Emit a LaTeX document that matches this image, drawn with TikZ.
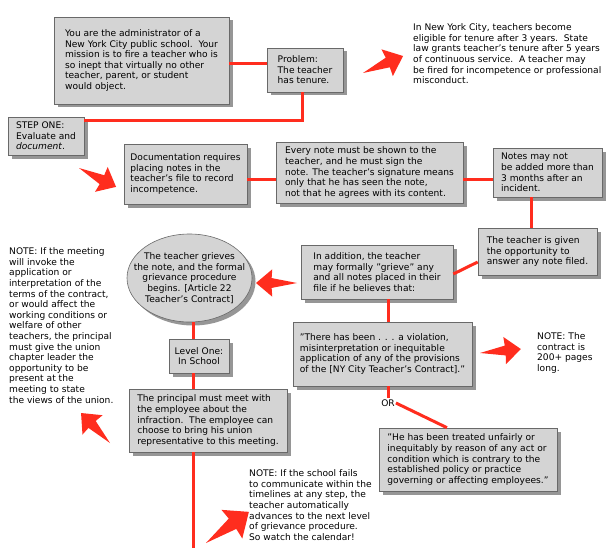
\documentclass[tikz,border=0pt]{standalone}
\usepackage{fontspec}
\setmainfont{DejaVu Sans}
\usetikzlibrary{shapes.geometric,shadows}

\definecolor{boxgray}{RGB}{212,212,212}
\definecolor{shadegray}{RGB}{150,150,150}
\definecolor{edgegray}{RGB}{105,105,105}
\definecolor{linkred}{RGB}{255,45,30}

% fat red pointer: tail, angle, length
\newcommand{\fatarrow}[3]{%
  \fill[linkred] (#1) -- +(#2+11:0.63*#3) -- +(#2+29:0.69*#3) -- +(#2:#3)
    -- +(#2-29:0.69*#3) -- +(#2-11:0.63*#3) -- cycle;}

\begin{document}
\begin{tikzpicture}[x=1pt, y=-1pt,
  every node/.style={font=\fontsize{9.1}{10.6}\selectfont},
  box/.style={draw=edgegray, line width=0.6pt, fill=boxgray, align=left, inner sep=0pt,
    drop shadow={shadow xshift=3.5pt, shadow yshift=-3.5pt, fill=shadegray, opacity=1}},
  note/.style={align=left, inner sep=0pt, anchor=north west},
  link/.style={draw=linkred, line width=3pt}]
  \useasboundingbox (0,0) rectangle (609,548);
  \coordinate (spine) at (193,548);

  % first row
  \node[box, minimum width=175pt, minimum height=87pt] (mission) at (141.5,60.5)
    {You are the administrator of a\\ New York City public school.\ \ Your\\
     mission is to fire a teacher who is\\ so inept that virtually no other\\
     teacher, parent, or student\\ would object.};
  \node[box, minimum width=76pt, minimum height=44pt] (problem) at (305,70)
    {Problem:\\ The teacher\\ has tenure.};
  \node[note] (tenurenote) at (413,23.5)
    {In New York City, teachers become\\ eligible for tenure after 3 years.\ \ State\\
     law grants teacher's tenure after 5 years\\ of continuous service.\ \ A teacher may\\
     be fired for incompetence or professional\\ misconduct.};
  \node[box, minimum width=76pt, minimum height=38pt] (step1) at (46,136)
    {STEP ONE:\\ Evaluate and\\ \textit{document}.};

  % documentation row
  \node[box, minimum width=123pt, minimum height=60pt] (doc) at (185.5,174)
    {Documentation requires\\ placing notes in the\\ teacher's file to record\\ incompetence.};
  \node[box, minimum width=187pt, minimum height=61pt] (every) at (369.5,172.5)
    {Every note must be shown to the\\ teacher, and he must sign the\\
     note. The teacher's signature means\\ only that he has seen the note,\\
     not that he agrees with its content.};
  \node[box, minimum width=109pt, minimum height=49pt] (notes) at (547.5,172.5)
    {Notes may not\\ be added more than\\ 3 months after an\\ incident.};
  \node[box, minimum width=119pt, minimum height=47pt] (given) at (537.5,251.5)
    {The teacher is given\\ the opportunity to\\ answer any note filed.};

  % grievance
  \node[box, minimum width=152pt, minimum height=54pt] (addition) at (377,272)
    {In addition, the teacher\\ may formally "grieve" any\\ and all notes placed in their\\ file if he believes that:};
  \node[box, minimum width=179pt, minimum height=64pt] (quote1) at (382.5,354)
    {"There has been . . . a violation,\\ misinterpretation or inequitable\\
     application of any of the provisions\\ of the [NY City Teacher's Contract]."};
  \node[inner sep=1pt] (or) at (388,403) {OR};
  \node[box, minimum width=178pt, minimum height=63pt] (quote2) at (468,459.5)
    {"He has been treated unfairly or\\ inequitably by reason of any act or\\
     condition which is contrary to the\\ established policy or practice\\
     governing or affecting employees."};
  \node[note] (contractnote) at (537,332.5) {NOTE: The\\ contract is\\ 200+ pages\\ long.};

  % level one
  \node[box, ellipse, minimum width=125pt, minimum height=88pt] (grieve) at (189.5,278) {};
  \node[align=center, inner sep=0pt] (grievetext) at (grieve)
    {The teacher grieves\\ the note, and the formal\\ grievance procedure\\ begins. [Article 22\\ Teacher's Contract]};
  \node[box, align=center, minimum width=60pt, minimum height=34pt] (level) at (199,356)
    {Level One:\\ In School};
  \node[box, minimum width=158pt, minimum height=63pt] (principal) at (208,420.5)
    {The principal must meet with\\ the employee about the\\ infraction.\ \ The employee can\\
     choose to bring his union\\ representative to this meeting.};
  \node[note] (leftnote) at (9,247.5)
    {NOTE: If the meeting\\ will invoke the\\ application or\\ interpretation of the\\
     terms of the contract,\\ or would affect the\\ working conditions or\\ welfare of other\\
     teachers, the principal\\ must give the union\\ chapter leader the\\ opportunity to be\\
     present at the\\ meeting to state\\ the views of the union.};
  \node[note] (schoolnote) at (249,469.5)
    {NOTE: If the school fails\\ to communicate within the\\ timelines at any step, the\\
     teacher automatically\\ advances to the next level\\ of grievance procedure.\\ So watch the calendar!};

  % connectors
  \draw[link] (mission.east |- 0,64) -- (problem.west |- 0,64);
  \draw[link] ([xshift=-3pt]problem.south) |- ([yshift=-4pt]step1.north east);
  \draw[link] (doc.east |- 0,179) -- (every.west |- 0,179);
  \draw[link] (every.east |- 0,179) -- (notes.west |- 0,179);
  \draw[link] (notes.south -| 531,0) -- (given.north -| 531,0);
  \draw[link] (given.west |- 0,262) -- (addition.east |- 0,274);
  \draw[link] (addition.south -| or) -- (quote1.north -| or);
  \draw[link] (quote1.south -| or) -- (or.north);
  \draw[link] (or.east) -- (quote2.north -| 447,0);
  \draw[link] (grieve.south -| spine) -- (level.north -| spine);
  \draw[link] (level.south -| spine) -- (principal.north -| spine);
  \draw[link] (principal.south -| spine) -- (spine);

  % pointers
  \fatarrow{363,73}{-23}{43.5}
  \fatarrow{79,168}{27}{41.6}
  \fatarrow{297,283}{180}{41}
  \fatarrow{480,353}{-5.6}{41}
  \fatarrow{110,443}{-134}{41.7}
  \fatarrow{206,543}{-36}{53}
\end{tikzpicture}
\end{document}
